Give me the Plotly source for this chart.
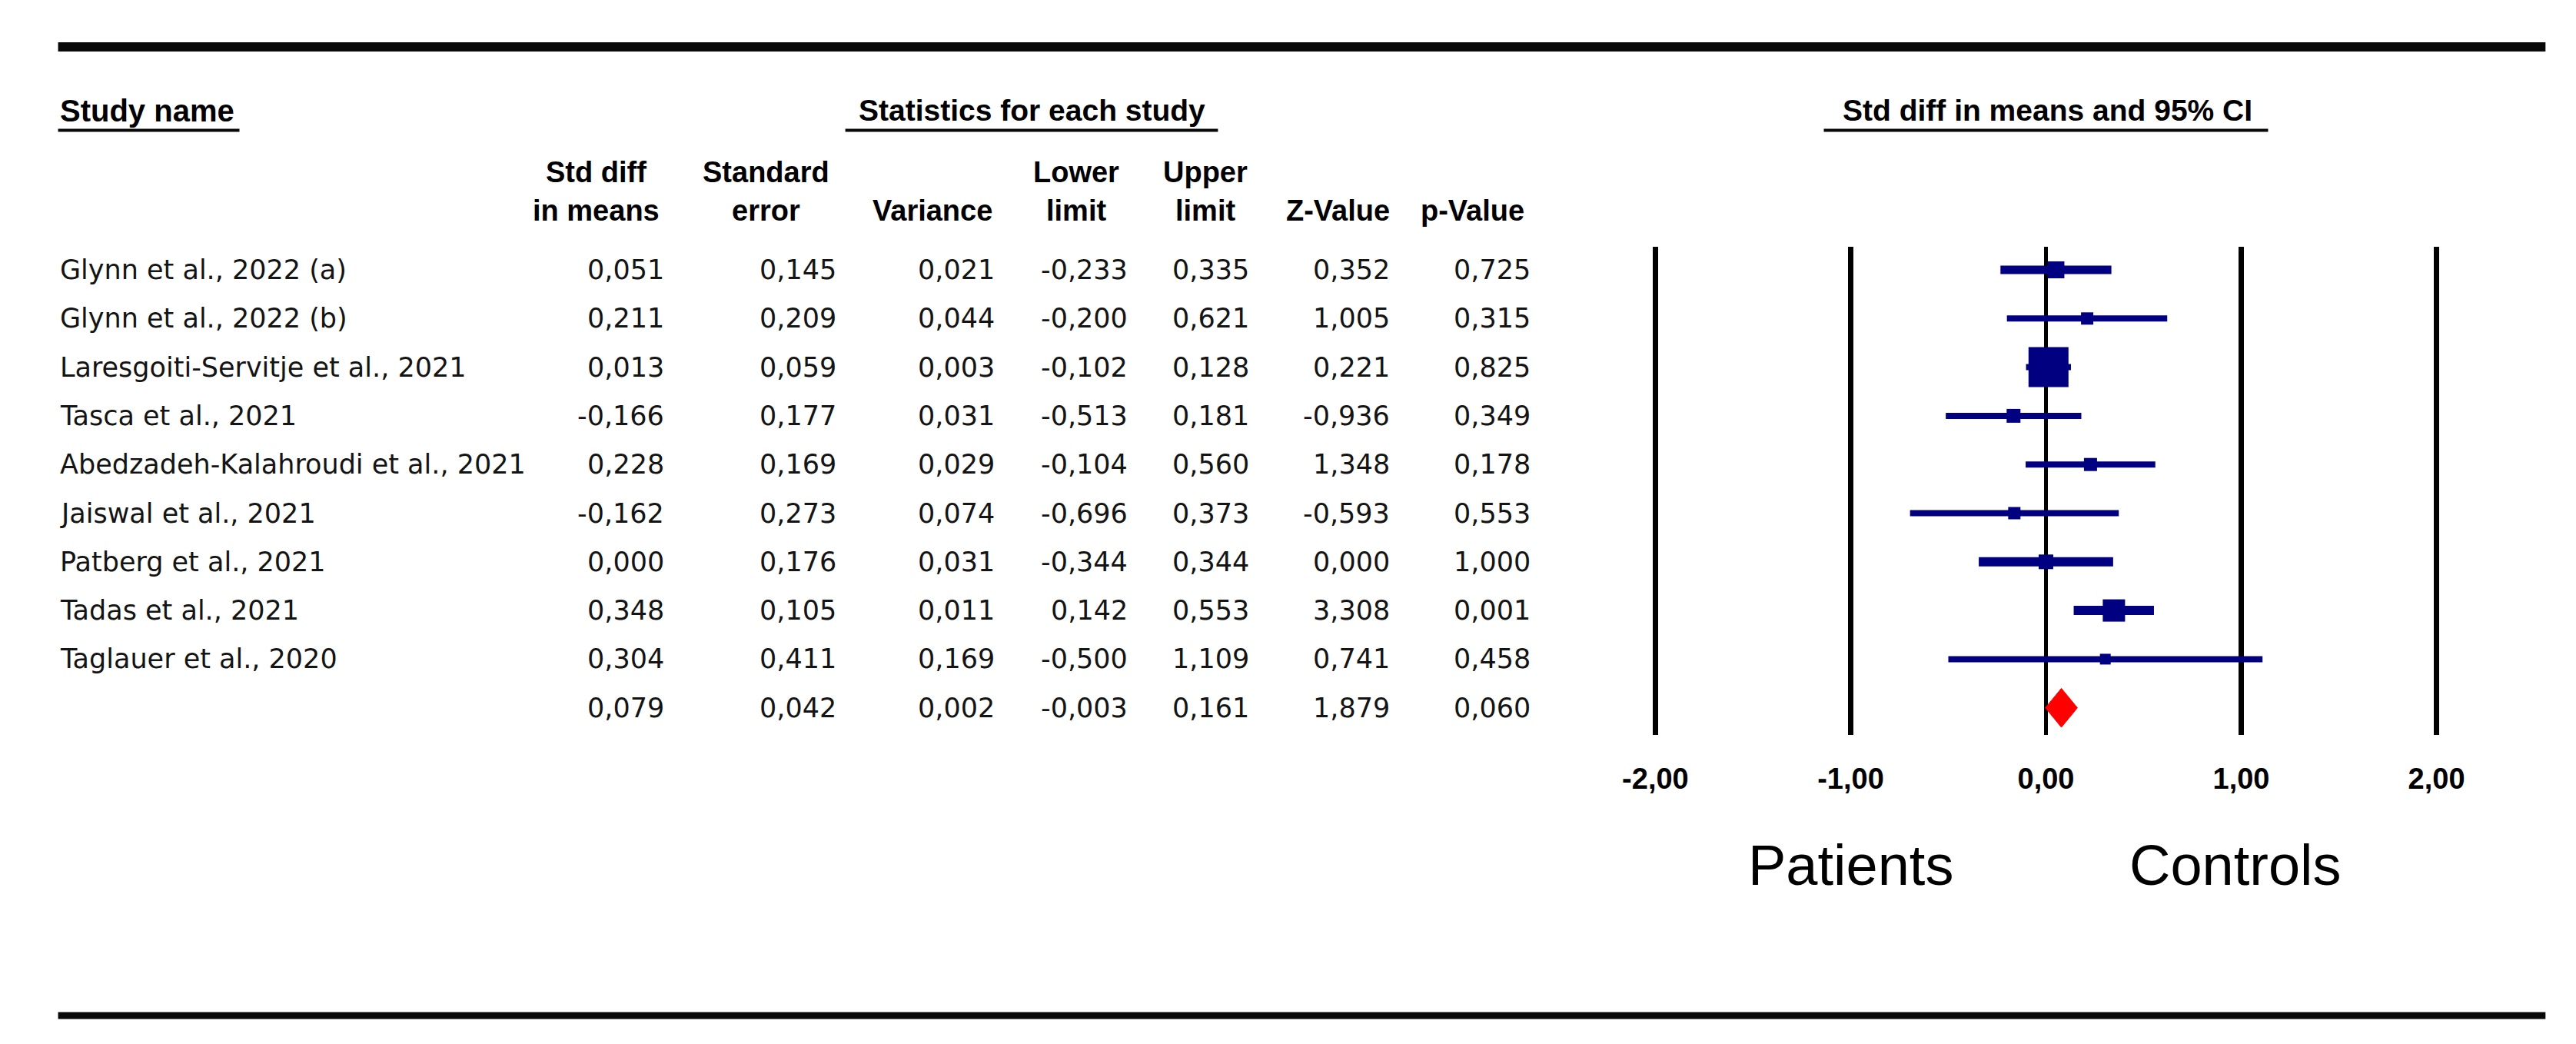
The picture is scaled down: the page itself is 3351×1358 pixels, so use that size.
import plotly.graph_objects as go

# ---------------- data ----------------
studies = [
    "Glynn et al., 2022 (a)",
    "Glynn et al., 2022 (b)",
    "Laresgoiti-Servitje et al., 2021",
    "Tasca et al., 2021",
    "Abedzadeh-Kalahroudi et al., 2021",
    "Jaiswal et al., 2021",
    "Patberg et al., 2021",
    "Tadas et al., 2021",
    "Taglauer et al., 2020",
]
std_diff = [0.051, 0.211, 0.013, -0.166, 0.228, -0.162, 0.000, 0.348, 0.304]
std_err = [0.145, 0.209, 0.059, 0.177, 0.169, 0.273, 0.176, 0.105, 0.411]
variance = [0.021, 0.044, 0.003, 0.031, 0.029, 0.074, 0.031, 0.011, 0.169]
lower = [-0.233, -0.200, -0.102, -0.513, -0.104, -0.696, -0.344, 0.142, -0.500]
upper = [0.335, 0.621, 0.128, 0.181, 0.560, 0.373, 0.344, 0.553, 1.109]
z_value = [0.352, 1.005, 0.221, -0.936, 1.348, -0.593, 0.000, 3.308, 0.741]
p_value = [0.725, 0.315, 0.825, 0.349, 0.178, 0.553, 1.000, 0.001, 0.458]

summary = {"std_diff": 0.079, "std_err": 0.042, "variance": 0.002,
           "lower": -0.003, "upper": 0.161, "z": 1.879, "p": 0.060}

tick_vals = [-2, -1, 0, 1, 2]
tick_text = ["-2,00", "-1,00", "0,00", "1,00", "2,00"]

# ---------------- styles ----------------
box_sizes = [22, 16, 52, 18, 17, 16, 19, 29, 14]
ci_widths = [11, 8, 8, 8, 8, 8, 12, 12, 8]
NAVY = "#000080"
TXT = "#141414"
BODY_FONT = "DejaVu Sans"
HEAD_FONT = "Liberation Sans"

W, H = 3351, 1358


def px(x):
    return x / W


def py(y):
    return 1 - y / H


ROW0, DY = 343, 63.3
PLOT_TOP, PLOT_BOT = 313, 948
X_M2, X_P2 = 2146, 3171
ppu = (X_P2 - X_M2) / 4.0
XR = [-2.1, 2.1]
dom_l = X_M2 + (XR[0] + 2) * ppu
dom_r = X_P2 + (XR[1] - 2) * ppu
y_top = (PLOT_TOP - ROW0) / DY
y_bot = (PLOT_BOT - ROW0) / DY

fig = go.Figure()

rows = list(range(len(studies)))
# CI lines
for i in rows:
    fig.add_trace(go.Scatter(
        x=[lower[i], upper[i]], y=[i, i], mode="lines",
        line=dict(color=NAVY, width=ci_widths[i]),
        hoverinfo="skip", showlegend=False))
# point estimates
fig.add_trace(go.Scatter(
    x=std_diff, y=rows, mode="markers",
    marker=dict(symbol="square", size=box_sizes, color=NAVY, opacity=1,
                line=dict(width=0)),
    showlegend=False))
# summary diamond
srow = len(studies)
hh = 0.4
fig.add_trace(go.Scatter(
    x=[summary["lower"], summary["std_diff"], summary["upper"], summary["std_diff"], summary["lower"]],
    y=[srow, srow - hh, srow, srow + hh, srow],
    mode="lines", fill="toself", fillcolor="#ff0000",
    line=dict(color="#ff0000", width=1), showlegend=False))

fig.update_layout(
    width=W, height=H,
    margin=dict(l=0, r=0, t=0, b=0),
    paper_bgcolor="white", plot_bgcolor="white",
    showlegend=False,
    xaxis=dict(
        domain=[px(dom_l), px(dom_r)], range=XR,
        tickvals=tick_vals, ticktext=["<b>%s</b>" % t for t in tick_text],
        tickfont=dict(family=HEAD_FONT, size=38, color="#000"),
        showgrid=True, gridcolor="#000", gridwidth=7,
        zeroline=True, zerolinecolor="#000", zerolinewidth=5,
        showline=False, ticks="outside", ticklen=23, tickcolor="rgba(0,0,0,0)",
        fixedrange=True,
    ),
    yaxis=dict(
        domain=[py(PLOT_BOT), py(PLOT_TOP)], range=[y_bot, y_top],
        visible=False, showgrid=False, zeroline=False, fixedrange=True,
    ),
)

ann = []


def text(x, y, s, size=35, anchor="right", family=BODY_FONT, yref="paper", bold=False):
    ann.append(dict(
        x=x, y=y, xref="paper", yref=yref, text=("<b>%s</b>" % s) if bold else s,
        showarrow=False, xanchor=anchor, yanchor="middle",
        font=dict(family=family, size=size, color=TXT if not bold else "#000")))


def fmt(v):
    return ("%.3f" % v).replace(".", ",")


# column right edges (pixels)
col_edges = [847, 1073, 1281, 1456, 1615, 1800, 1984]
cols = [std_diff, std_err, variance, lower, upper, z_value, p_value]
for i in rows:
    text(px(50), i, studies[i], anchor="left", yref="y")
    for c, edge in zip(cols, col_edges):
        text(px(edge), i, fmt(c[i]), yref="y")
svals = [summary[k] for k in ["std_diff", "std_err", "variance", "lower", "upper", "z", "p"]]
for v, edge in zip(svals, col_edges):
    text(px(edge), srow, fmt(v), yref="y")

# titles
TITLE_Y = 136
text(px(50), py(TITLE_Y), "Study name", size=40, anchor="left", family=HEAD_FONT, bold=True)
text(px(1328), py(TITLE_Y), "Statistics for each study", size=39, anchor="center", family=HEAD_FONT, bold=True)
text(px(2661), py(TITLE_Y), "Std diff in means and 95% CI", size=39, anchor="center", family=HEAD_FONT, bold=True)

# column headers
H1, H2 = 216, 266
headers = [
    (756, "Std diff", "in means"),
    (979, "Standard", "error"),
    (1197, None, "Variance"),
    (1386, "Lower", "limit"),
    (1555, "Upper", "limit"),
    (1729, None, "Z-Value"),
    (1906, None, "p-Value"),
]
for cx, l1, l2 in headers:
    if l1:
        text(px(cx), py(H1), l1, size=38, anchor="center", family=HEAD_FONT, bold=True)
    text(px(cx), py(H2), l2, size=38, anchor="center", family=HEAD_FONT, bold=True)

# Patients / Controls
for xv, s in [(-1.0, "Patients"), (0.97, "Controls")]:
    ann.append(dict(x=xv, y=py(1117), xref="x", yref="paper", text=s, showarrow=False,
                    xanchor="center", yanchor="middle",
                    font=dict(family=HEAD_FONT, size=74, color="#000")))

fig.update_layout(annotations=ann)

# rules and underlines
shapes = []


def hline(x0, x1, y, w):
    shapes.append(dict(type="line", xref="paper", yref="paper",
                       x0=px(x0), x1=px(x1), y0=py(y), y1=py(y),
                       line=dict(color="#080808", width=w)))


hline(50, 3314, 53, 12)
hline(50, 3314, 1313, 9)
hline(50, 288, 161.5, 4)
hline(1083, 1572, 161.5, 4)
hline(2367, 2950, 161.5, 4)
fig.update_layout(shapes=shapes)

fig.write_html("out.html")
